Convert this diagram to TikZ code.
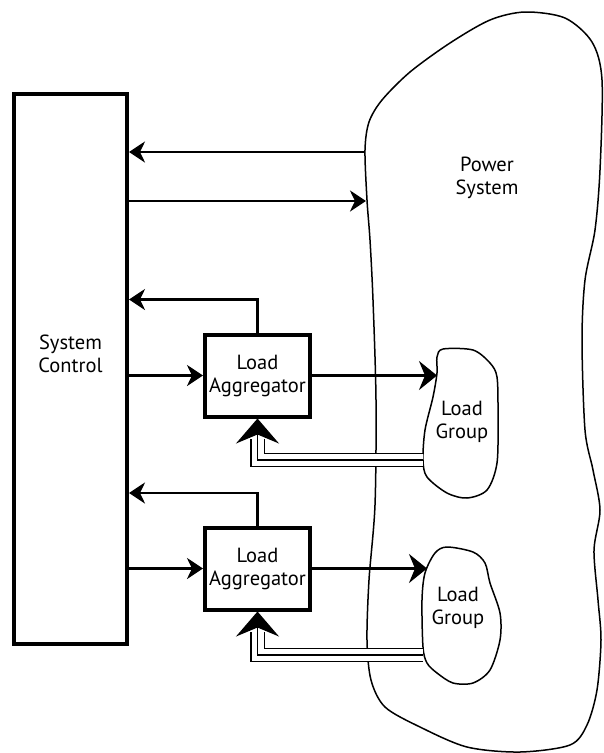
\documentclass[tikz,border=0pt]{standalone}
\usepackage{fontspec}
\setmainfont{PT Sans}
\usetikzlibrary{arrows.meta,positioning}
\begin{document}
\begin{tikzpicture}[x=1pt,y=-1pt,>={Stealth[length=16pt,width=21pt,inset=5pt]},font=\fontsize{20.5}{23}\selectfont,
	block/.style={draw,line width=4pt,minimum width=105pt,minimum height=82pt,align=center,inner sep=0pt},
	lbl/.style={align=center,inner sep=0pt},
	flow/.style={->,line width=2.6pt},
	feed/.style={-{Stealth[length=18pt,width=29pt,inset=6pt]},line width=2.6pt},
	fat/.style={-{Stealth[length=25pt,width=43pt,inset=9pt]},line width=1.3pt},
	rails/.style={line width=1.3pt,double distance=12pt},
	outline/.style={line width=1.5pt,smooth cycle,tension=0.5}]
	\useasboundingbox (0,0) rectangle (604,753);
	\draw[outline] plot coordinates {(365,150) (369,122) (382,100) (410,72) (450,43) (490,20) (525,12) (565,18) (592,42) (602,80) (600,170) (595,230) (585,280) (582,340) (585,430) (593,470) (600,510) (594,550) (598,600) (601,640) (597,690) (587,725) (570,745) (520,752) (467,747) (420,727) (385,707) (371,680) (367,640) (369,580) (375,505) (376,400) (373,300) (370,240) (367,200)};
	\draw[outline,fill=white] plot coordinates {(443,349) (473,350) (490,363) (497,377) (498,413) (497,463) (487,490) (467,498) (447,493) (427,477) (423,460) (425,430) (433,397) (437,373) (437,357)};
	\draw[outline,fill=white] plot coordinates {(447,547) (473,552) (485,563) (490,583) (500,613) (500,640) (490,670) (473,683) (453,683) (437,673) (427,663) (423,647) (422,600) (425,573) (435,553)};
	\node[lbl] (pstxt) at (487,178) {Power\\System};
	\node[lbl] (lg1) at (462,422) {Load\\Group};
	\node[lbl] (lg2) at (458,608) {Load\\Group};
	\coordinate (ps-out) at (365,152);
	\coordinate (ps-in) at (366,201);
	\coordinate (lg1-in) at (437,373);
	\coordinate (lg2-in) at (427,567);
	\coordinate (lg1-fb) at (423,460);
	\coordinate (lg2-fb) at (423,655);

	\node[block,minimum width=113pt,minimum height=550pt] (ctrl) at (70.5,369) {};
	\node[lbl] (ctrltxt) at (70.5,354) {System\\Control};
	\node[block] (agg1) at (257.5,375.5) {Load\\Aggregator};
	\node[block] (agg2) at (257.5,568.5) {Load\\Aggregator};

	\draw[flow] (ps-out) -- (ps-out -| ctrl.east);
	\draw[flow] (ctrl.east |- ps-in) -- (ps-in);
	\draw[flow] (agg1.north) -- ++(0,-33) coordinate (up1) -- (up1 -| ctrl.east);
	\draw[flow] (agg2.north) -- ++(0,-32.5) coordinate (up2) -- (up2 -| ctrl.east);
	\draw[flow] (ctrl.east |- agg1.west) -- (agg1.west);
	\draw[flow] (ctrl.east |- agg2.west) -- (agg2.west);
	\draw[feed] (agg1.east) -- (agg1.east -| lg1-in);
	\draw[feed] (agg2.east) -- (agg2.east -| lg2-in);
	\draw[rails] (lg1-fb) -| ([yshift=-20pt]agg1.south);
	\draw[fat] (lg1-fb) -| (agg1.south);
	\draw[rails] (lg2-fb) -| ([yshift=-20pt]agg2.south);
	\draw[fat] (lg2-fb) -| (agg2.south);
\end{tikzpicture}
\end{document}
